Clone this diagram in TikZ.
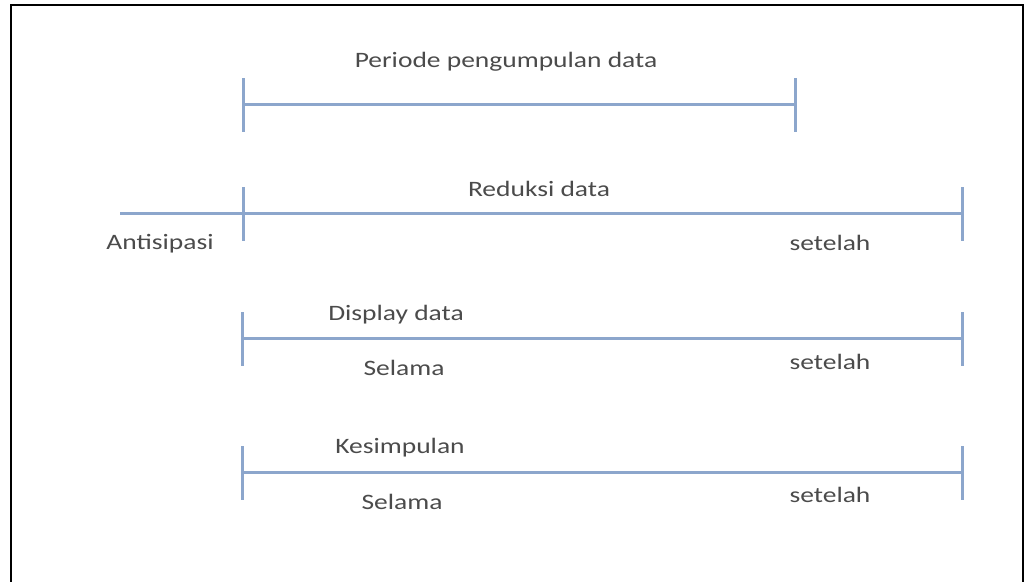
\documentclass[tikz,border=0pt]{standalone}
\usepackage{fontspec}
\setmainfont{Carlito}
\usetikzlibrary{calc}
\definecolor{barblue}{RGB}{140,166,204}
\definecolor{txtgray}{RGB}{75,75,75}
\begin{document}
\begin{tikzpicture}[x=1pt,y=-1pt,
  bar/.style={draw=barblue,line width=3pt},
  endtick/.style={draw=barblue,line width=3pt},
  lbl/.style={text=txtgray,font=\fontsize{22}{26}\selectfont,inner sep=0pt,xscale=1.25}]
\useasboundingbox (0,0) rectangle (1028,581);
\clip (0,0) rectangle (1028,581);
% frame
\draw[line width=2.8pt] (11,5) rectangle (1023,600);

% end points of the four time bars
\coordinate (a1) at (243,104); \coordinate (b1) at (795,104);
\coordinate (s2) at (120,213); \coordinate (a2) at (243,213); \coordinate (b2) at (962,213);
\coordinate (a3) at (242,338); \coordinate (b3) at (962,338);
\coordinate (a4) at (242,472); \coordinate (b4) at (962,472);

% bars
\draw[bar] (a1) -- (b1);
\draw[bar] (s2) -- (b2);
\draw[bar] (a3) -- (b3);
\draw[bar] (a4) -- (b4);

% end ticks
\foreach \p in {a1,b1,a2,b2,a3,b3,a4,b4}{
  \coordinate (\p top) at ($(\p)+(0,-26)$);
  \coordinate (\p bot) at ($(\p)+(0,28)$);
  \draw[endtick] (\p top) -- (\p bot);
}

% labels
\node[lbl] (periode) at (506,62) {Periode pengumpulan data};
\node[lbl] (reduksi) at (539,189) {Reduksi data};
\node[lbl] (antisipasi) at (160,244) {Antisipasi};
\node[lbl] (setelah2) at (830,243) {setelah};
\node[lbl] (display) at (396,315) {Display data};
\node[lbl] (selama3) at (404,368) {Selama};
\node[lbl] (setelah3) at (830,362) {setelah};
\node[lbl] (kesimpulan) at (400,448) {Kesimpulan};
\node[lbl] (selama4) at (402,502) {Selama};
\node[lbl] (setelah4) at (830,495) {setelah};
\end{tikzpicture}
\end{document}
